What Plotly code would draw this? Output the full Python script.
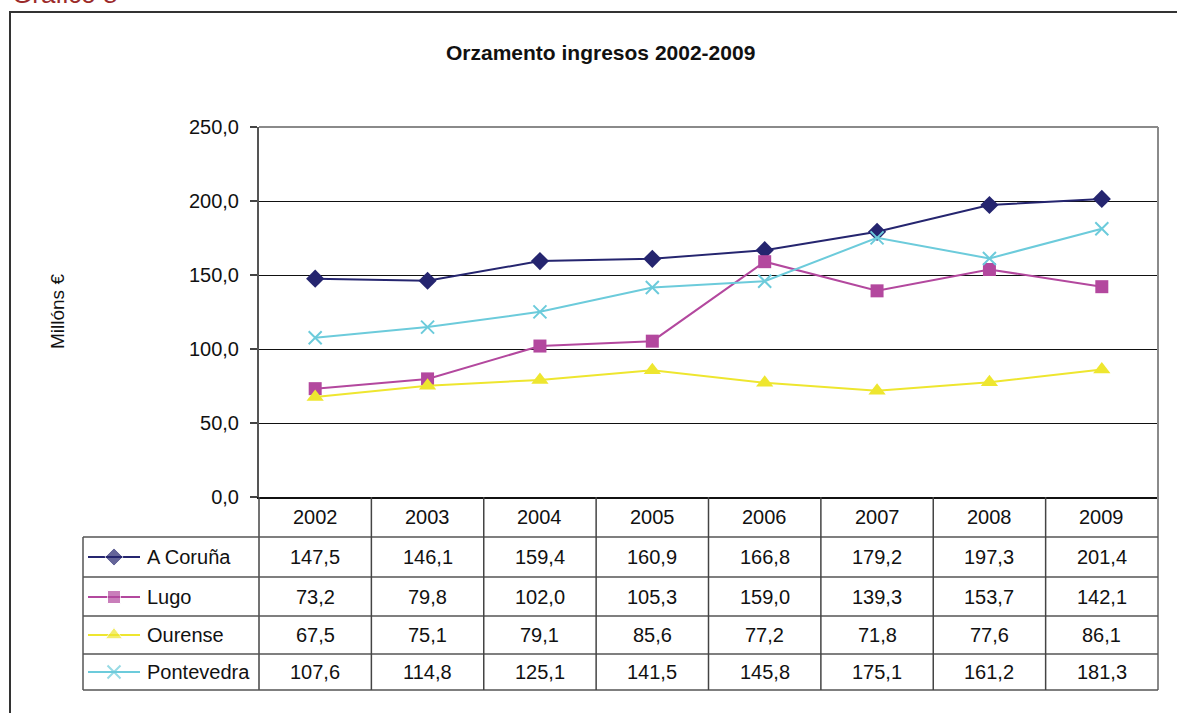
import plotly.graph_objects as go

# ---------------- data ----------------
years = ["2002", "2003", "2004", "2005", "2006", "2007", "2008", "2009"]
a_coruna = [147.5, 146.1, 159.4, 160.9, 166.8, 179.2, 197.3, 201.4]
lugo = [73.2, 79.8, 102.0, 105.3, 159.0, 139.3, 153.7, 142.1]
ourense = [67.5, 75.1, 79.1, 85.6, 77.2, 71.8, 77.6, 86.1]
pontevedra = [107.6, 114.8, 125.1, 141.5, 145.8, 175.1, 161.2, 181.3]
series_names = ["A Coruña", "Lugo", "Ourense", "Pontevedra"]
y_ticks = [0, 50, 100, 150, 200, 250]

# ---------------- styling ----------------
W, H = 1177, 713
FONT = "Arial, Liberation Sans, sans-serif"
colors = ["#25256f", "#b3489e", "#eee62f", "#6ccbdb"]
symbols = ["diamond", "square", "triangle-up", "x-thin"]
msizes = [14, 13, 15, 13]

L, R, T, B = 259, 1158, 127, 497          # plot area in pixels
row_lines = [537, 577, 616, 654, 690]      # table row separators
row_centers = [557, 597, 635, 672]
header_center = 517
TABLE_LEFT = 83
TXT = dict(size=20, color="#111111", family=FONT)


def px(x):
    return x / W


def py(y):
    return 1 - y / H


series = [a_coruna, lugo, ourense, pontevedra]
xs = list(range(len(years)))

fig = go.Figure()

for name, vals, c, s, ms in zip(series_names, series, colors, symbols, msizes):
    mk = dict(symbol=s, size=ms, color=c)
    if s == "x-thin":
        mk["line"] = dict(color=c, width=2)
    fig.add_trace(go.Scatter(x=xs, y=vals, mode="lines+markers", name=name,
                             line=dict(color=c, width=2), marker=mk,
                             showlegend=False, cliponaxis=False))

# legend keys inside the data table (secondary axes)
for name, rc, c, s, ms in zip(series_names, row_centers, colors, symbols, msizes):
    mk = dict(symbol=s, size=[0, ms, 0], color=c)
    if s == "x-thin":
        mk["line"] = dict(color=c, width=2)
    fig.add_trace(go.Scatter(x=[88, 114, 140], y=[rc] * 3, mode="lines+markers",
                             line=dict(color=c, width=2), marker=mk,
                             xaxis="x2", yaxis="y2", showlegend=False))

shapes = []
# outer frame
shapes.append(dict(type="rect", xref="paper", yref="paper", x0=px(10), x1=px(1190),
                   y0=py(730), y1=py(12), line=dict(color="#333333", width=2)))
# top border of plot area (gray)
shapes.append(dict(type="line", xref="paper", yref="paper", x0=px(L), x1=px(R),
                   y0=py(T), y1=py(T), line=dict(color="#8a8a8a", width=2), layer="above"))
# right border of plot + table
shapes.append(dict(type="line", xref="paper", yref="paper", x0=px(R), x1=px(R),
                   y0=py(T), y1=py(row_lines[-1]), line=dict(color="#8a8a8a", width=2)))
# table left border
shapes.append(dict(type="line", xref="paper", yref="paper", x0=px(TABLE_LEFT), x1=px(TABLE_LEFT),
                   y0=py(row_lines[0]), y1=py(row_lines[-1]), line=dict(color="#555555", width=1.5)))
# column separator at plot left edge (below axis)
shapes.append(dict(type="line", xref="paper", yref="paper", x0=px(L), x1=px(L),
                   y0=py(B), y1=py(row_lines[-1]), line=dict(color="#444444", width=1.5)))
# table row lines
for yl in row_lines:
    shapes.append(dict(type="line", xref="paper", yref="paper", x0=px(TABLE_LEFT), x1=px(R),
                       y0=py(yl), y1=py(yl), line=dict(color="#555555", width=1.5)))
# column separators between years
for k in range(1, len(years)):
    shapes.append(dict(type="line", xref="x", yref="paper", x0=k - 0.5, x1=k - 0.5,
                       y0=py(B), y1=py(row_lines[-1]), line=dict(color="#444444", width=1.5)))

ann = []
# header row of years
for i, yr in enumerate(years):
    ann.append(dict(x=i, y=py(header_center), xref="x", yref="paper", text=yr,
                    xanchor="center", yanchor="middle", showarrow=False, font=TXT))
# values
for vals, rc, name in zip(series, row_centers, series_names):
    for i, v in enumerate(vals):
        ann.append(dict(x=i, y=py(rc), xref="x", yref="paper",
                        text=f"{v:.1f}".replace(".", ","), showarrow=False,
                        xanchor="center", yanchor="middle", font=TXT))
    ann.append(dict(x=px(145), y=py(rc), xref="paper", yref="paper", text=name,
                    xanchor="left", yanchor="middle", showarrow=False, font=TXT))

# title
ann.append(dict(x=px(600), y=py(52), xref="paper", yref="paper",
                text="<b>Orzamento ingresos 2002-2009</b>", showarrow=False,
                xanchor="center", yanchor="middle",
                font=dict(size=21, color="#111111", family=FONT)))
# y axis title
ann.append(dict(x=px(57), y=py(311), xref="paper", yref="paper", text="Millóns €",
                textangle=-90, showarrow=False, xanchor="center", yanchor="middle",
                font=dict(size=19, color="#111111", family=FONT)))
# cropped page caption
ann.append(dict(x=px(10), y=py(11), xref="paper", yref="paper", text="Gráfico 8",
                xanchor="left", yanchor="bottom", showarrow=False,
                font=dict(size=26, color="#9b2a2a", family=FONT)))

fig.update_layout(
    template="none",
    width=W, height=H, autosize=False,
    margin=dict(l=0, r=0, t=0, b=0, pad=0),
    paper_bgcolor="white", plot_bgcolor="white",
    separators=",.",
    font=dict(family=FONT, size=16, color="#111111"),
    xaxis=dict(domain=[px(L), px(R)], range=[-0.5, len(years) - 0.5],
               showgrid=False, zeroline=False, showticklabels=False, ticks="",
               showline=True, linecolor="#111111", linewidth=2, fixedrange=True,
               automargin=False),
    yaxis=dict(domain=[py(B), py(T)], range=[0, 250], tickvals=y_ticks,
               tickformat=".1f", showgrid=True, gridcolor="#111111", gridwidth=1.2,
               zeroline=False, showline=True, linecolor="#555555", linewidth=2,
               ticks="outside", ticklen=7, tickcolor="#444444", tickwidth=1.5,
               tickfont=TXT, ticklabelstandoff=7, fixedrange=True, automargin=False),
    xaxis2=dict(domain=[px(TABLE_LEFT), px(L)], range=[TABLE_LEFT, L], visible=False,
                anchor="y2", fixedrange=True, automargin=False),
    yaxis2=dict(domain=[py(row_lines[-1]), py(row_lines[0])],
                range=[row_lines[-1], row_lines[0]], visible=False, anchor="x2",
                fixedrange=True, automargin=False),
    shapes=shapes,
    annotations=ann,
)

fig.write_html("out.html", config={"displayModeBar": False},
               post_script="document.body.style.margin='0px';document.body.style.overflow='hidden';")
